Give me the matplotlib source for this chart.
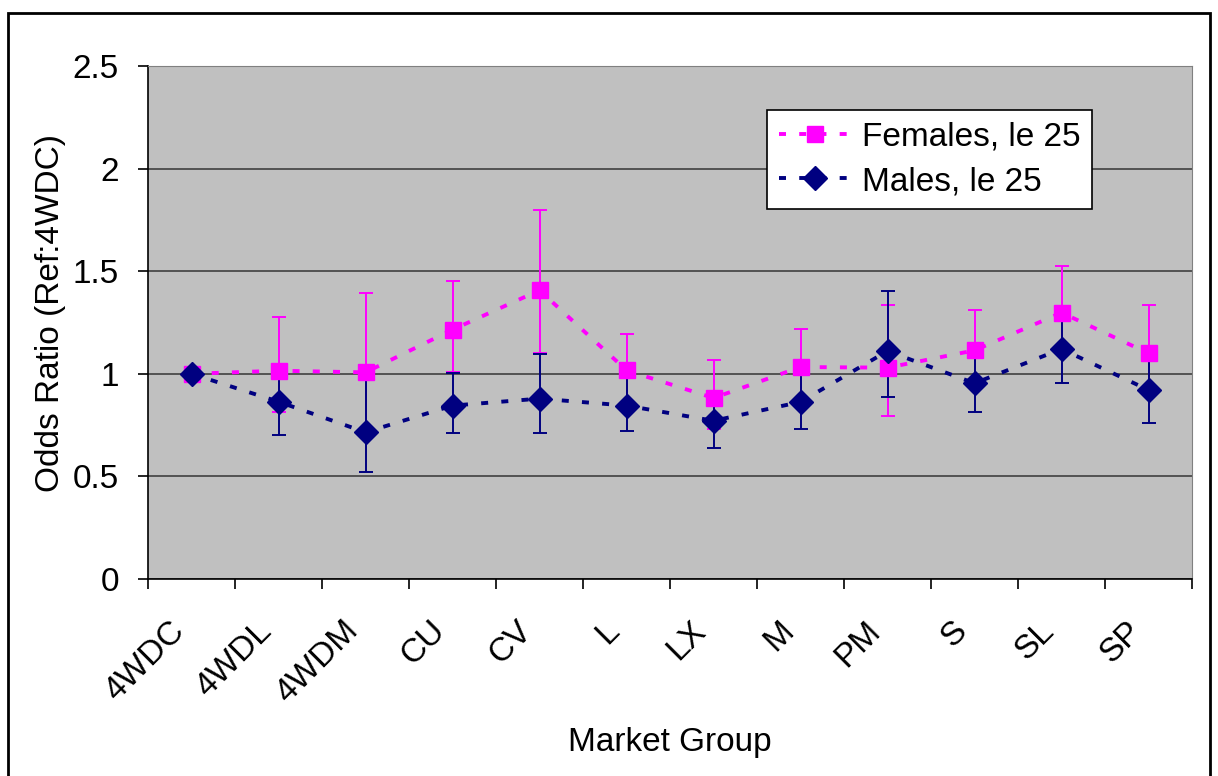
import numpy as np
import matplotlib
matplotlib.use("Agg")
import matplotlib.pyplot as plt
import matplotlib.transforms as mtransforms
from matplotlib.patches import Rectangle

plt.rcParams['font.family'] = ['Liberation Sans', 'DejaVu Sans']

groups = ['4WDC', '4WDL', '4WDM', 'CU', 'CV', 'L', 'LX', 'M', 'PM', 'S', 'SL', 'SP']

fem = [1.0, 1.015, 1.007, 1.215, 1.407, 1.017, 0.882, 1.033, 1.03, 1.114, 1.298, 1.10]
fem_hi = [1.0, 1.278, 1.394, 1.454, 1.80, 1.194, 1.069, 1.22, 1.335, 1.311, 1.525, 1.335]
fem_lo = [1.0, 0.812, 0.73, 1.01, 1.10, 0.86, 0.73, 0.88, 0.794, 0.95, 1.11, 0.90]

mal = [1.0, 0.864, 0.715, 0.845, 0.879, 0.845, 0.771, 0.863, 1.111, 0.954, 1.121, 0.921]
mal_hi = [1.0, 1.0, 0.99, 1.005, 1.096, 1.0, 0.90, 1.02, 1.403, 1.10, 1.29, 1.08]
mal_lo = [1.0, 0.703, 0.521, 0.711, 0.711, 0.723, 0.638, 0.73, 0.887, 0.812, 0.954, 0.762]

pink = '#FF00FF'
navy = '#000080'
fs = 24

fig = plt.figure(figsize=(12.18, 7.76), dpi=100)
ax = fig.add_axes([148/1218, 1-579/776, (1192-148)/1218, (579-66)/776])
ax.set_facecolor('#C0C0C0')

x = np.arange(len(groups))
fem = np.array(fem); mal = np.array(mal)
ferr = [fem - np.array(fem_lo), np.array(fem_hi) - fem]
merr = [mal - np.array(mal_lo), np.array(mal_hi) - mal]

ax.errorbar(x, fem, yerr=ferr, fmt='none', ecolor=pink, elinewidth=1.4, capsize=5, capthick=1.4, zorder=3)
ax.errorbar(x, mal, yerr=merr, fmt='none', ecolor=navy, elinewidth=1.4, capsize=5, capthick=1.4, zorder=3)
ax.plot(x, fem, color=pink, lw=2.8, dashes=(1.8, 3.4), marker='s', ms=12, mfc=pink, mec=pink,
        label='Females, le 25', zorder=4)
ax.plot(x, mal, color=navy, lw=2.8, dashes=(1.8, 3.4), marker='D', ms=12, mfc=navy, mec=navy,
        label='Males, le 25', zorder=5)

ax.set_xlim(-0.5, len(groups) - 0.5)
ax.set_ylim(0, 2.5)
ax.set_yticks(np.arange(0, 2.51, 0.5))
ax.set_yticklabels(['0', '0.5', '1', '1.5', '2', '2.5'])
ax.yaxis.grid(True, color='#404040', lw=1.2)
ax.set_axisbelow(True)

ax.set_xticks(np.arange(-0.5, len(groups), 1.0))
ax.set_xticklabels([])
ax.set_xticks(x, minor=True)
ax.set_xticklabels(groups, minor=True, rotation=45, ha='right', va='center',
                   rotation_mode='anchor')
ax.tick_params(axis='x', which='major', direction='out', length=7, width=1.2, color='black')
ax.tick_params(axis='x', which='minor', length=0, pad=34, labelsize=fs)
ax.tick_params(axis='y', direction='out', length=7, width=1.2, pad=14, labelsize=fs)
offset = mtransforms.ScaledTranslation(-12/100, 0, fig.dpi_scale_trans)
for lab in ax.xaxis.get_minorticklabels():
    lab.set_transform(lab.get_transform() + offset)

for s in ['top', 'right']:
    ax.spines[s].set_color('#808080')
for s in ['left', 'bottom']:
    ax.spines[s].set_color('black')
    ax.spines[s].set_linewidth(1.2)

ax.set_xlabel('Market Group', fontsize=fs)
ax.xaxis.set_label_coords(0.5, (579-727)/513)
ax.set_ylabel('Odds Ratio (Ref:4WDC)', fontsize=fs)
ax.yaxis.set_label_coords((66-148)/1044, (579-313)/513)

leg = ax.legend(loc='upper left', bbox_to_anchor=(0.593, 0.914), fontsize=fs,
                fancybox=False, framealpha=1, edgecolor='black', handlelength=2.2,
                borderpad=0.35, labelspacing=0.4, handletextpad=0.3, borderaxespad=0)
leg.get_frame().set_linewidth(1.2)

fig.patches.append(Rectangle((8/1218, -0.02), (1210-8)/1218, 1-13/776+0.02,
                             transform=fig.transFigure, fill=False, edgecolor='black', lw=2))

fig.savefig('out.png', dpi=100)
